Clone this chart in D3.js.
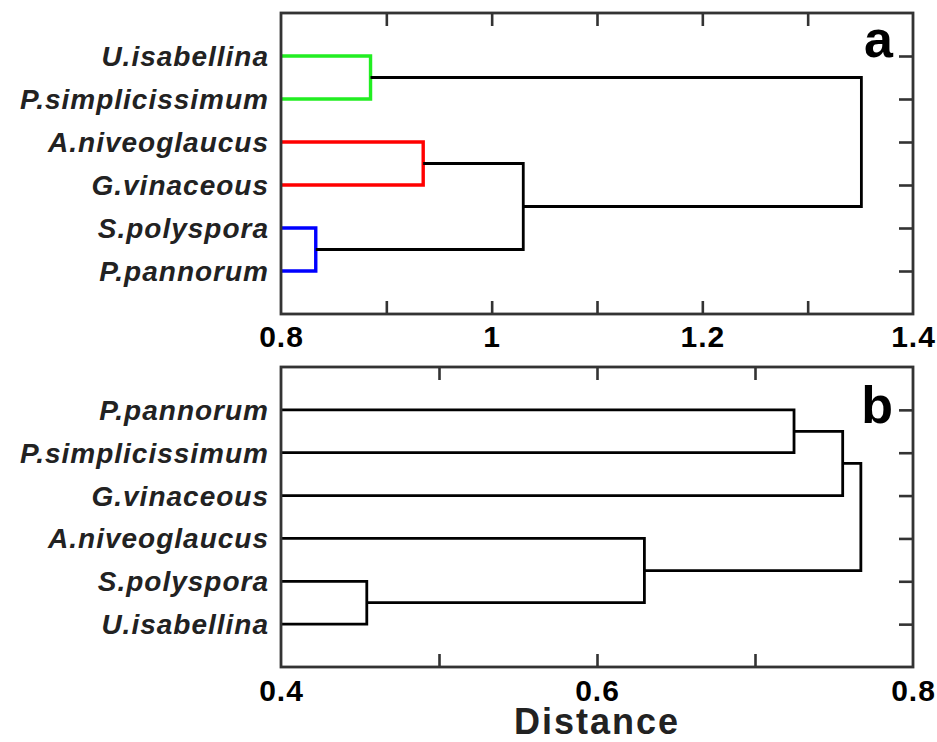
<!DOCTYPE html>
<html>
<head>
<meta charset="utf-8">
<script src="https://cdn.jsdelivr.net/npm/d3@7/dist/d3.min.js"></script>
<style>
  html, body { margin: 0; padding: 0; background: #fff; }
  svg { display: block; }
</style>
</head>
<body>
<svg id="chart" width="937" height="742"></svg>
<script>
// ---------- DATA ----------
const leavesA = ["U.isabellina", "P.simplicissimum", "A.niveoglaucus", "G.vinaceous", "S.polyspora", "P.pannorum"];
// linkage rows: [childA, childB, distance]; index >= 6 refers to an earlier merge (6 + row)
const mergesA = [
  [0, 1, 0.885],
  [2, 3, 0.935],
  [4, 5, 0.833],
  [7, 8, 1.030],
  [6, 9, 1.351]
];
const tickLabelsA = [0.8, 1, 1.2, 1.4];
const tickMarksA = [0.9, 1.0, 1.1, 1.2, 1.3];

const leavesB = ["P.pannorum", "P.simplicissimum", "G.vinaceous", "A.niveoglaucus", "S.polyspora", "U.isabellina"];
const mergesB = [
  [0, 1, 0.7247],
  [6, 2, 0.7555],
  [4, 5, 0.4543],
  [3, 8, 0.630],
  [7, 9, 0.767]
];
const tickLabelsB = [0.4, 0.6, 0.8];
const tickMarksB = [0.5, 0.6, 0.7];

// ---------- STYLE ----------
const mergeColorsA = ["#22ee22", "#ff0000", "#0000ff", "#000", "#000"];
const mergeColorsB = ["#000", "#000", "#000", "#000", "#000"];

const svg = d3.select("#chart");
const frameColor = "#333";

function panel(opts) {
  const { leaves, merges, colors, domain, labels, marks, top, bottom, letter, letterBase, labelBase } = opts;
  const left = 281, right = 913;
  const x = d3.scaleLinear().domain(domain).range([left, right]);
  const y = d3.scaleLinear().domain([0, leaves.length + 1]).range([top, bottom]);
  const g = svg.append("g");

  const n = leaves.length;
  const nodes = leaves.map((d, i) => ({ h: domain[0], y: y(i + 1) }));

  merges.forEach((m, k) => {
    const a = nodes[m[0]], b = nodes[m[1]];
    const hy = m[2];
    const path = d3.path();
    path.moveTo(x(a.h), a.y);
    path.lineTo(x(hy), a.y);
    path.lineTo(x(hy), b.y);
    path.lineTo(x(b.h), b.y);
    g.append("path")
      .attr("d", path.toString())
      .attr("fill", "none")
      .attr("stroke", colors[k])
      .attr("stroke-width", colors[k] === "#000" ? 2.8 : 3.4)
      .attr("stroke-linejoin", "miter")
      .attr("stroke-linecap", "butt");
    nodes.push({ h: hy, y: (a.y + b.y) / 2 });
  });

  // leaf labels
  g.selectAll("text.leaf").data(leaves).join("text")
    .attr("class", "leaf")
    .attr("x", 269)
    .attr("y", (d, i) => y(i + 1) + 10)
    .attr("text-anchor", "end")
    .attr("font-family", "Liberation Sans, Arial, sans-serif")
    .attr("font-weight", "bold")
    .attr("font-style", "italic")
    .attr("font-size", 28)
    .attr("letter-spacing", 1)
    .attr("fill", "#222")
    .text(d => d);

  // inward tick marks
  const axB = g.append("g").attr("transform", `translate(0,${bottom})`)
    .call(d3.axisBottom(x).tickValues(marks).tickSizeInner(-13).tickSizeOuter(0).tickFormat(""));
  const axT = g.append("g").attr("transform", `translate(0,${top})`)
    .call(d3.axisTop(x).tickValues(marks).tickSizeInner(-13).tickSizeOuter(0).tickFormat(""));
  const axR = g.append("g").attr("transform", `translate(${right},0)`)
    .call(d3.axisRight(y).tickValues(d3.range(1, n + 1)).tickSizeInner(-14).tickSizeOuter(0).tickFormat(""));
  [axB, axT, axR].forEach(ax => {
    ax.select(".domain").remove();
    ax.selectAll("line").attr("stroke", frameColor).attr("stroke-width", 2.6);
  });

  // tick labels
  const axL = g.append("g").attr("transform", `translate(0,${bottom})`)
    .call(d3.axisBottom(x).tickValues(labels).tickSize(0).tickFormat(d3.format("")));
  axL.select(".domain").remove();
  axL.selectAll("text")
    .attr("y", labelBase - bottom)
    .attr("dy", 0)
    .attr("font-family", "Liberation Sans, Arial, sans-serif")
    .attr("font-weight", "bold")
    .attr("font-size", 30)
    .attr("letter-spacing", 1)
    .attr("fill", "#000");

  // frame
  g.append("rect")
    .attr("x", left).attr("y", top)
    .attr("width", right - left).attr("height", bottom - top)
    .attr("fill", "none")
    .attr("stroke", frameColor)
    .attr("stroke-width", 2.8);

  // panel letter
  g.append("text")
    .attr("x", 893).attr("y", letterBase)
    .attr("text-anchor", "end")
    .attr("font-family", "Liberation Sans, Arial, sans-serif")
    .attr("font-weight", "bold")
    .attr("font-size", 52)
    .attr("fill", "#000")
    .text(letter);
}

panel({ leaves: leavesA, merges: mergesA, colors: mergeColorsA, domain: [0.8, 1.4],
        labels: tickLabelsA, marks: tickMarksA, top: 13, bottom: 314,
        letter: "a", letterBase: 57, labelBase: 347 });
panel({ leaves: leavesB, merges: mergesB, colors: mergeColorsB, domain: [0.4, 0.8],
        labels: tickLabelsB, marks: tickMarksB, top: 367, bottom: 667,
        letter: "b", letterBase: 423, labelBase: 701 });

svg.append("text")
  .attr("x", 597).attr("y", 734)
  .attr("text-anchor", "middle")
  .attr("font-family", "Liberation Sans, Arial, sans-serif")
  .attr("font-weight", "bold")
  .attr("font-size", 36)
  .attr("letter-spacing", 2)
  .attr("fill", "#222")
  .text("Distance");
</script>
</body>
</html>
